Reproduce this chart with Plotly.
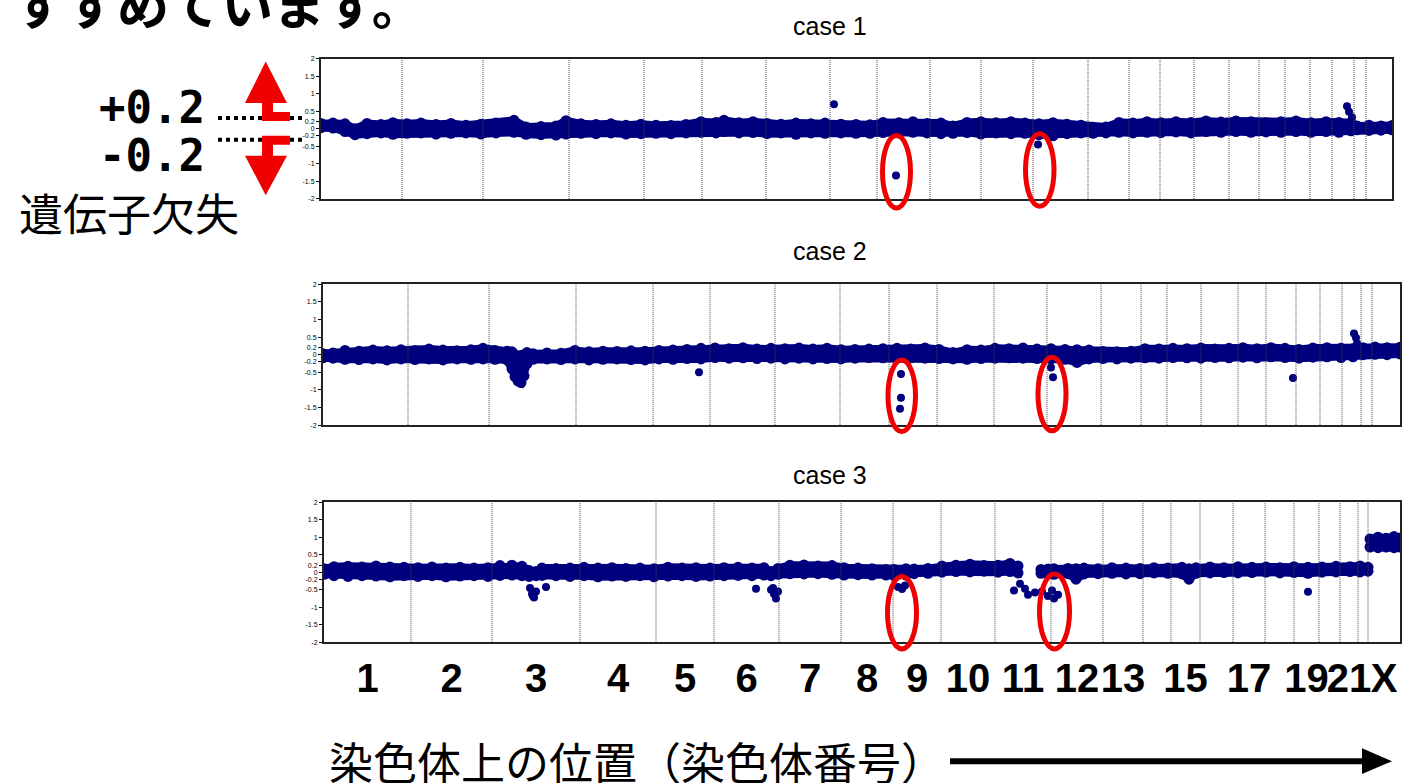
import plotly.graph_objects as go

W, H = 1404, 783
NAVY = "#00007f"
RED = "#f00000"

# ---------------- data ----------------
chrom_names = [str(i) for i in range(1, 23)] + ["X"]
label_chroms = ["1", "2", "3", "4", "5", "6", "7", "8", "9", "10", "11", "12", "13",
                "15", "17", "19", "21", "X"]
ytick_vals = [2, 1.5, 1, 0.5, 0.2, 0, -0.2, -0.5, -1, -1.5, -2]
ytick_text = ["2", "1.5", "1", "0.5", "0.2", "0", "-0.2", "-0.5", "-1", "-1.5", "-2"]

# chromosome boundaries (probe position units) for each case
case1_bounds = [0, 81, 162, 248, 323, 381, 445, 509, 556, 609, 660, 712, 767, 808, 839,
                873, 908, 938, 964, 989, 1011, 1033, 1045, 1071]
case2_bounds = [0, 85, 166, 253, 330, 387, 452, 517, 566, 614, 671, 724, 778, 818, 844,
                878, 915, 943, 973, 997, 1019, 1038, 1049, 1077]
case3_bounds = [0, 87, 168, 256, 332, 390, 455, 517, 569, 617, 671, 727, 779, 819, 847,
                876, 909, 941, 970, 995, 1016, 1034, 1044, 1076]

# case 1: log2 ratio envelope (upper / lower probes) along the genome
c1_pos = [0, 12, 24, 34, 46, 60, 72, 86, 100, 115, 130, 145, 160, 175, 193, 205, 220, 235,
          245, 260, 275, 290, 305, 320, 335, 350, 365, 380, 395, 403, 418, 432, 446, 460,
          475, 490, 504, 520, 535, 549, 562, 578, 592, 606, 620, 632, 646, 660, 675, 690,
          704, 718, 732, 746, 760, 772, 785, 798, 812, 826, 840, 855, 870, 885, 900, 915,
          930, 945, 960, 975, 990, 1005, 1018, 1030, 1036, 1048, 1060, 1071]
c1_hi = [0.15, 0.16, 0.14, 0.0, 0.15, 0.12, 0.17, 0.14, 0.16, 0.12, 0.15, 0.10, 0.13, 0.16,
         0.24, 0.05, 0.06, 0.08, 0.23, 0.14, 0.12, 0.14, 0.10, 0.13, 0.10, 0.09, 0.12, 0.20,
         0.18, 0.24, 0.17, 0.20, 0.15, 0.13, 0.16, 0.14, 0.16, 0.13, 0.12, 0.11, 0.18, 0.17,
         0.20, 0.15, 0.16, 0.08, 0.18, 0.20, 0.17, 0.20, 0.16, 0.14, 0.17, 0.13, 0.10, 0.04,
         0.05, 0.18, 0.16, 0.20, 0.17, 0.20, 0.18, 0.22, 0.19, 0.22, 0.20, 0.17, 0.20, 0.22,
         0.17, 0.20, 0.18, 0.17, 0.08, 0.10, 0.08, 0.09]
c1_lo = [0.03, 0.02, -0.08, -0.17, -0.14, -0.12, -0.16, -0.13, -0.12, -0.15, -0.13, -0.12,
         -0.15, -0.12, -0.10, -0.16, -0.17, -0.18, -0.15, -0.13, -0.14, -0.12, -0.15, -0.14,
         -0.13, -0.14, -0.12, -0.10, -0.12, -0.08, -0.12, -0.11, -0.14, -0.12, -0.16, -0.12,
         -0.13, -0.12, -0.13, -0.13, -0.11, -0.12, -0.10, -0.12, -0.14, -0.13, -0.11, -0.15,
         -0.12, -0.14, -0.13, -0.17, -0.20, -0.14, -0.12, -0.13, -0.12, -0.10, -0.12, -0.10,
         -0.11, -0.09, -0.12, -0.08, -0.10, -0.08, -0.10, -0.09, -0.10, -0.08, -0.10, -0.08,
         -0.10, -0.06, -0.03, -0.05, -0.04, -0.03]
c1_out_x = [513, 575, 717, 1026, 1028, 1031]
c1_out_y = [0.70, -1.33, -0.45, 0.64, 0.48, 0.33]

# case 2
c2_pos = [0, 10, 22, 36, 50, 64, 78, 92, 106, 120, 134, 148, 160, 172, 184, 189, 192, 195,
          198, 201, 204, 210, 224, 238, 252, 266, 280, 294, 308, 322, 336, 350, 364, 378,
          392, 406, 420, 434, 448, 462, 476, 490, 504, 518, 532, 546, 560, 574, 588, 602,
          616, 630, 644, 658, 672, 686, 700, 714, 728, 742, 754, 766, 780, 794, 808, 822,
          836, 850, 864, 878, 892, 906, 920, 934, 948, 962, 976, 990, 1004, 1018, 1030,
          1040, 1052, 1064, 1077]
c2_hi = [0.03, 0.05, 0.12, 0.10, 0.13, 0.11, 0.14, 0.12, 0.16, 0.13, 0.11, 0.14, 0.18, 0.12,
         0.10, 0.08, 0.0, -0.05, -0.02, 0.0, 0.06, 0.03, 0.05, 0.04, 0.12, 0.08, 0.10, 0.09,
         0.11, 0.10, 0.12, 0.13, 0.15, 0.18, 0.19, 0.17, 0.20, 0.16, 0.18, 0.17, 0.19, 0.16,
         0.18, 0.14, 0.15, 0.16, 0.17, 0.18, 0.16, 0.19, 0.15, 0.06, 0.14, 0.13, 0.18, 0.17,
         0.19, 0.16, 0.17, 0.15, 0.14, 0.13, 0.09, 0.08, 0.10, 0.17, 0.16, 0.18, 0.17, 0.19,
         0.16, 0.18, 0.20, 0.17, 0.20, 0.18, 0.15, 0.19, 0.20, 0.18, 0.17, 0.20, 0.22, 0.20,
         0.21]
c2_lo = [-0.09, -0.10, -0.13, -0.14, -0.12, -0.15, -0.12, -0.14, -0.12, -0.15, -0.12, -0.13,
         -0.12, -0.13, -0.15, -0.40, -0.62, -0.74, -0.79, -0.60, -0.25, -0.13, -0.12, -0.14,
         -0.12, -0.15, -0.13, -0.12, -0.14, -0.15, -0.12, -0.13, -0.11, -0.12, -0.08, -0.10,
         -0.09, -0.11, -0.10, -0.12, -0.10, -0.12, -0.11, -0.12, -0.10, -0.08, -0.09, -0.10,
         -0.09, -0.10, -0.11, -0.12, -0.13, -0.11, -0.10, -0.09, -0.10, -0.11, -0.12, -0.13,
         -0.22, -0.12, -0.11, -0.12, -0.10, -0.09, -0.10, -0.08, -0.09, -0.10, -0.08, -0.09,
         -0.07, -0.09, -0.06, -0.08, -0.10, -0.07, -0.06, -0.08, -0.06, 0.0, 0.01, 0.0, 0.02]
c2_out_x = [376, 578, 578, 577, 728, 730, 970, 1031, 1033, 1034]
c2_out_y = [-0.50, -0.55, -1.22, -1.53, -0.36, -0.64, -0.66, 0.60, 0.48, 0.32]

# case 3 (three contiguous segments)
c3a_pos = [0, 10, 24, 38, 52, 66, 80, 94, 108, 122, 136, 150, 164, 176, 188, 198, 205, 212,
           218, 232, 246, 260, 274, 288, 302, 316, 330, 344, 358, 372, 386, 400, 414, 428,
           440, 447, 454, 466, 480, 494, 508, 520, 534, 548, 562, 570, 582, 590, 604, 618,
           632, 646, 660, 674, 686, 694]
c3a_hi = [0.10, 0.16, 0.17, 0.15, 0.18, 0.15, 0.14, 0.13, 0.15, 0.12, 0.14, 0.12, 0.13, 0.19,
          0.20, 0.17, 0.05, 0.02, 0.12, 0.11, 0.12, 0.14, 0.12, 0.13, 0.11, 0.12, 0.10, 0.14,
          0.12, 0.13, 0.12, 0.13, 0.14, 0.12, 0.13, 0.02, 0.11, 0.20, 0.21, 0.18, 0.19, 0.13,
          0.12, 0.10, 0.08, 0.08, 0.10, 0.09, 0.11, 0.18, 0.20, 0.23, 0.19, 0.20, 0.25, 0.18]
c3a_lo = [-0.06, -0.10, -0.12, -0.10, -0.11, -0.13, -0.10, -0.12, -0.10, -0.13, -0.11, -0.10,
          -0.12, -0.09, -0.08, -0.10, -0.12, -0.10, -0.09, -0.10, -0.12, -0.10, -0.13, -0.11,
          -0.12, -0.10, -0.13, -0.11, -0.10, -0.12, -0.11, -0.10, -0.09, -0.10, -0.08, -0.10,
          -0.06, -0.04, -0.05, -0.04, -0.06, -0.08, -0.07, -0.08, -0.08, -0.10, -0.08, -0.04,
          -0.03, 0.0, 0.02, 0.01, 0.03, 0.0, 0.02, -0.02]
c3b_pos = [717, 724, 730, 744, 752, 760, 774, 788, 802, 816, 830, 844, 858, 865, 872, 886,
           900, 914, 928, 942, 956, 970, 984, 998, 1012, 1026, 1036, 1044]
c3b_hi = [0.08, 0.09, 0.10, 0.11, 0.10, 0.12, 0.10, 0.13, 0.12, 0.11, 0.13, 0.12, 0.14, 0.10,
          0.13, 0.15, 0.13, 0.16, 0.14, 0.15, 0.13, 0.16, 0.14, 0.15, 0.17, 0.16, 0.18, 0.14]
c3b_lo = [-0.03, -0.04, -0.06, -0.04, -0.20, -0.05, -0.04, -0.03, -0.05, -0.04, -0.02, -0.03,
          -0.05, -0.20, -0.03, -0.02, -0.01, -0.02, -0.01, 0.0, -0.02, -0.01, -0.03, 0.0,
          0.01, 0.02, 0.01, 0.03]
c3x_pos = [1046, 1054, 1062, 1070, 1076]
c3x_hi = [0.95, 1.00, 0.97, 1.02, 0.98]
c3x_lo = [0.72, 0.70, 0.72, 0.70, 0.72]
c3_out_x = [206, 208, 210, 212, 209, 222, 432, 447, 450, 452, 454, 449, 574, 578, 581,
            690, 696, 701, 704, 711, 718, 724, 730, 734, 728, 984]
c3_out_y = [-0.45, -0.62, -0.72, -0.55, -0.68, -0.42, -0.47, -0.50, -0.62, -0.75, -0.55,
            -0.45, -0.42, -0.48, -0.38, -0.52, -0.33, -0.47, -0.64, -0.58, -0.55, -0.68,
            -0.75, -0.64, -0.52, -0.56]

# highlighted regions (case, x0, x1, y0, y1) in data units
highlights = [
    (1, 561.5, 589.5, -2.26, -0.19), (1, 704.5, 733.0, -2.21, -0.14),
    (2, 565.0, 592.5, -2.18, -0.15), (2, 715.0, 743.0, -2.16, -0.07),
    (3, 563.5, 592.5, -2.19, -0.12), (3, 715.5, 745.5, -2.19, -0.05),
]

# ---------------- layout geometry (pixels) ----------------
panels = {
    1: dict(x=(321, 1392), y=(55, 196.7), title_y=22, bounds=case1_bounds),
    2: dict(x=(323, 1400), y=(282.7, 425), title_y=249, bounds=case2_bounds),
    3: dict(x=(324, 1400), y=(502.7, 644), title_y=475, bounds=case3_bounds),
}


def px(x):
    return x / W


def py(y):
    return 1 - y / H


def to_paper(case, xv, yv):
    p = panels[case]
    x0, x1 = p["x"]
    ytop, ybot = p["y"]
    xmax = p["bounds"][-1]
    X = x0 + (xv / xmax) * (x1 - x0)
    Y = ybot - (yv + 2) / 4 * (ybot - ytop)
    return px(X), py(Y)


band_data = {
    1: [(c1_pos, c1_hi, c1_lo)],
    2: [(c2_pos, c2_hi, c2_lo)],
    3: [(c3a_pos, c3a_hi, c3a_lo), (c3b_pos, c3b_hi, c3b_lo), (c3x_pos, c3x_hi, c3x_lo)],
}
outliers = {1: (c1_out_x, c1_out_y), 2: (c2_out_x, c2_out_y), 3: (c3_out_x, c3_out_y)}

fig = go.Figure()

for c in (1, 2, 3):
    xa = "x" if c == 1 else f"x{c}"
    ya = "y" if c == 1 else f"y{c}"
    bounds = panels[c]["bounds"]
    # band polygon + edge probes
    bx, by, mx, my = [], [], [], []
    for pos, hi, lo in band_data[c]:
        bx += list(pos) + list(pos[::-1]) + [None]
        by += list(hi) + list(lo[::-1]) + [None]
        mx += list(pos) + list(pos)
        my += list(hi) + list(lo)
    fig.add_trace(go.Scatter(x=bx, y=by, mode="lines", fill="toself", fillcolor=NAVY,
                             line=dict(color=NAVY, width=8), xaxis=xa, yaxis=ya,
                             hoverinfo="skip"))
    fig.add_trace(go.Scatter(x=mx, y=my, mode="markers", xaxis=xa, yaxis=ya,
                             marker=dict(color=NAVY, size=11, line=dict(width=0))))
    ox, oy = outliers[c]
    fig.add_trace(go.Scatter(x=ox, y=oy, mode="markers", xaxis=xa, yaxis=ya,
                             marker=dict(color=NAVY, size=8, line=dict(width=0))))
    # chromosome boundary lines
    lx, ly = [], []
    for b in bounds[1:-1]:
        lx += [b, b, None]
        ly += [-2, 2, None]
    fig.add_trace(go.Scatter(x=lx, y=ly, mode="lines", xaxis=xa, yaxis=ya,
                             line=dict(color="#444444", width=1, dash="1px,1px"),
                             hoverinfo="skip"))

layout = dict(width=W, height=H, margin=dict(l=0, r=0, t=0, b=0),
              paper_bgcolor="white", plot_bgcolor="white", showlegend=False)

for c in (1, 2, 3):
    p = panels[c]
    xk = "xaxis" if c == 1 else f"xaxis{c}"
    yk = "yaxis" if c == 1 else f"yaxis{c}"
    xanchor = "y" if c == 1 else f"y{c}"
    yanchor = "x" if c == 1 else f"x{c}"
    xd = [px(p["x"][0]), px(p["x"][1])]
    yd = [py(p["y"][1]), py(p["y"][0])]
    xaxis = dict(domain=xd, range=[0, p["bounds"][-1]], anchor=xanchor,
                 showline=True, mirror=True, linecolor="#222222", linewidth=2,
                 showgrid=False, zeroline=False, ticks="", showticklabels=False)
    if c == 3:
        b = p["bounds"]
        centers = []
        for name in label_chroms:
            i = chrom_names.index(name)
            centers.append((b[i] + b[i + 1]) / 2)
        xaxis.update(showticklabels=True, tickvals=centers, ticktext=label_chroms,
                     tickangle=0,
                     tickfont=dict(size=40, color="black", weight="bold",
                                   family="Liberation Sans, Arial, sans-serif"),
                     ticklabelstandoff=0)
    layout[xk] = xaxis
    layout[yk] = dict(domain=yd, range=[-2, 2], anchor=yanchor,
                      showline=True, mirror=True, linecolor="#222222", linewidth=2,
                      showgrid=False, zeroline=False, ticks="outside", ticklen=3,
                      tickcolor="black", tickvals=ytick_vals, ticktext=ytick_text,
                      tickfont=dict(size=7, color="black", family="Liberation Sans, Arial"))

fig.update_layout(**layout)

# ---------------- annotations ----------------
ann = []
for c in (1, 2, 3):
    ann.append(dict(text=f"case {c}", x=px(830), y=py(panels[c]["title_y"]), xref="paper",
                    yref="paper", showarrow=False, xanchor="center", yanchor="middle",
                    font=dict(size=25, color="black", family="Liberation Sans, Arial")))
ann.append(dict(text="すすめています。", x=px(11), y=py(-2), xref="paper", yref="paper",
                showarrow=False, xanchor="left", yanchor="middle",
                font=dict(size=52, color="black", family="Noto Sans CJK JP", weight="bold")))
ann.append(dict(text="+0.2", x=px(152), y=py(104), xref="paper", yref="paper",
                showarrow=False, xanchor="center", yanchor="middle",
                font=dict(size=44, color="black", family="DejaVu Sans Mono", weight="bold")))
ann.append(dict(text="-0.2", x=px(152), y=py(152.5), xref="paper", yref="paper",
                showarrow=False, xanchor="center", yanchor="middle",
                font=dict(size=44, color="black", family="DejaVu Sans Mono", weight="bold")))
ann.append(dict(text="遺伝子欠失", x=px(128.5), y=py(210), xref="paper", yref="paper",
                showarrow=False, xanchor="center", yanchor="middle",
                font=dict(size=44, color="black", family="Noto Sans CJK JP")))
ann.append(dict(text="染色体上の位置（染色体番号）", x=px(637), y=py(764), xref="paper",
                yref="paper", showarrow=False, xanchor="center", yanchor="middle",
                font=dict(size=44, color="black", family="Noto Sans CJK JP")))
fig.update_layout(annotations=ann)

# ---------------- shapes ----------------
def path(points):
    s = "M " + " L ".join(f"{px(x)},{py(y)}" for x, y in points) + " Z"
    return s


shapes = []
# dotted leader lines from the +0.2 / -0.2 labels
for yy in (115, 137):
    shapes.append(dict(type="line", xref="paper", yref="paper", x0=px(218), x1=px(306),
                       y0=py(yy), y1=py(yy), line=dict(color="black", width=4, dash="4px,4px")))
# red arrows
red_polys = [
    [(265.7, 58), (287, 100), (245, 100)],
    [(262, 99), (273, 99), (273, 109), (290, 109), (290, 118), (262, 118)],
    [(262, 133), (290, 133), (290, 142), (273, 142), (273, 154), (262, 154)],
    [(245, 153), (287, 153), (265.7, 193)],
]
for poly in red_polys:
    shapes.append(dict(type="path", xref="paper", yref="paper", path=path(poly),
                       fillcolor=RED, line=dict(width=0)))
# ellipses around deletions
for c, x0, x1, y0, y1 in highlights:
    X0, Y0 = to_paper(c, x0, y0)
    X1, Y1 = to_paper(c, x1, y1)
    shapes.append(dict(type="circle", xref="paper", yref="paper", x0=X0, x1=X1, y0=Y0,
                       y1=Y1, line=dict(color=RED, width=5)))
# bottom direction arrow
shapes.append(dict(type="line", xref="paper", yref="paper", x0=px(950), x1=px(1370),
                   y0=py(764), y1=py(764), line=dict(color="black", width=6)))
shapes.append(dict(type="path", xref="paper", yref="paper",
                   path=path([(1362, 751), (1392, 764), (1362, 777)]),
                   fillcolor="black", line=dict(width=0)))
fig.update_layout(shapes=shapes)

fig.write_html("out.html", config={"displayModeBar": False},
               post_script="document.body.style.margin='0';document.body.style.overflow='hidden';")
